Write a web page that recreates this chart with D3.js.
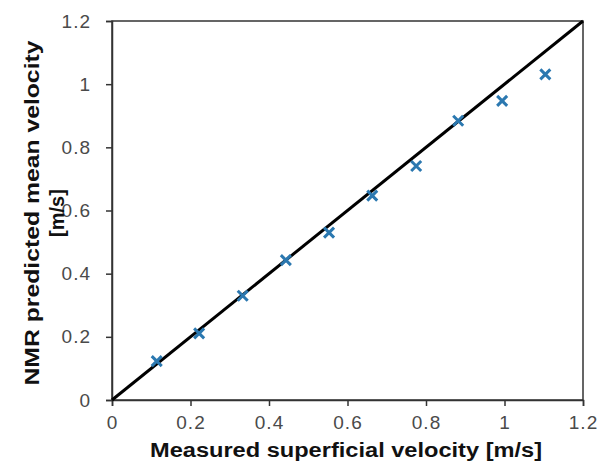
<!DOCTYPE html>
<html>
<head>
<meta charset="utf-8">
<script src="https://cdn.jsdelivr.net/npm/d3@7"></script>
<style>
  body { margin: 0; background: #fff; }
  text { font-family: "Liberation Sans", Arial, sans-serif; }
</style>
</head>
<body>
<div id="chart"></div>
<script>
var width = 608;
var height = 466;
var margin = { top: 21, right: 25, bottom: 66, left: 112 };

// measured superficial velocity [m/s]
var measured = [0.114, 0.222, 0.333, 0.443, 0.553, 0.663, 0.775, 0.882, 0.994, 1.104];
// NMR predicted mean velocity [m/s]
var predicted = [0.123, 0.211, 0.330, 0.443, 0.530, 0.647, 0.741, 0.884, 0.947, 1.031];
var xTicks = [0, 0.2, 0.4, 0.6, 0.8, 1, 1.2];
var yTicks = [0, 0.2, 0.4, 0.6, 0.8, 1, 1.2];
var identity = [0, 1.2];

var markerColor = '#2b78b0';
var textColor = '#4a4a4a';

var svg = d3.select('#chart')
    .append('svg')
    .attr('width', width)
    .attr('height', height);

var x = d3.scaleLinear().domain([0, 1.2]).range([margin.left, width - margin.right]);
var y = d3.scaleLinear().domain([0, 1.2]).range([height - margin.bottom, margin.top]);

// frame
svg.append('rect')
    .attr('x', x(0))
    .attr('y', y(1.2))
    .attr('width', x(1.2) - x(0))
    .attr('height', y(0) - y(1.2))
    .attr('fill', 'none')
    .attr('stroke', '#333')
    .attr('stroke-width', 1.5);

var xAxis = svg.append('g')
    .attr('transform', 'translate(0,' + y(0) + ')')
    .call(d3.axisBottom(x).tickValues(xTicks).tickSize(6).tickPadding(10).tickFormat(d3.format('')));

var yAxis = svg.append('g')
    .attr('transform', 'translate(' + x(0) + ',0)')
    .call(d3.axisLeft(y).tickValues(yTicks).tickSize(6).tickPadding(15).tickFormat(d3.format('')));

[xAxis, yAxis].forEach(function(g) {
  g.select('.domain').attr('stroke', '#333').attr('stroke-width', 1.5);
  g.selectAll('.tick line').attr('stroke', '#333').attr('stroke-width', 1.5);
  g.selectAll('.tick text')
      .attr('fill', textColor)
      .style('font-size', '19px')
      .style('letter-spacing', '1px');
});

// 1:1 line
var line = d3.line()
    .x(function(d) { return x(d); })
    .y(function(d) { return y(d); });

svg.append('path')
    .datum(identity)
    .attr('d', line)
    .attr('fill', 'none')
    .attr('stroke', '#000')
    .attr('stroke-width', 3);

// x markers
var s = 5;
svg.selectAll('.pt')
    .data(measured)
    .enter()
    .append('path')
    .attr('class', 'pt')
    .attr('d', function(d, i) {
      var cx = x(d), cy = y(predicted[i]);
      return 'M' + (cx - s) + ',' + (cy - s) + 'L' + (cx + s) + ',' + (cy + s) +
             'M' + (cx - s) + ',' + (cy + s) + 'L' + (cx + s) + ',' + (cy - s);
    })
    .attr('stroke', markerColor)
    .attr('stroke-width', 3)
    .attr('fill', 'none');

// axis titles
svg.append('text')
    .attr('x', 346)
    .attr('y', 457)
    .attr('text-anchor', 'middle')
    .attr('fill', '#111')
    .attr('textLength', 392)
    .attr('lengthAdjust', 'spacingAndGlyphs')
    .style('font-size', '20px')
    .style('font-weight', 'bold')
    .text('Measured superficial velocity [m/s]');

var yTitle = svg.append('text')
    .attr('transform', 'translate(0,213) rotate(-90)')
    .attr('text-anchor', 'middle')
    .attr('fill', '#111')
    .style('font-size', '20px')
    .style('font-weight', 'bold');

yTitle.append('tspan').attr('x', 0).attr('y', 39)
    .attr('textLength', 345).attr('lengthAdjust', 'spacingAndGlyphs')
    .text('NMR predicted mean velocity');
yTitle.append('tspan').attr('x', 0).attr('y', 64).text('[m/s]');
</script>
</body>
</html>
